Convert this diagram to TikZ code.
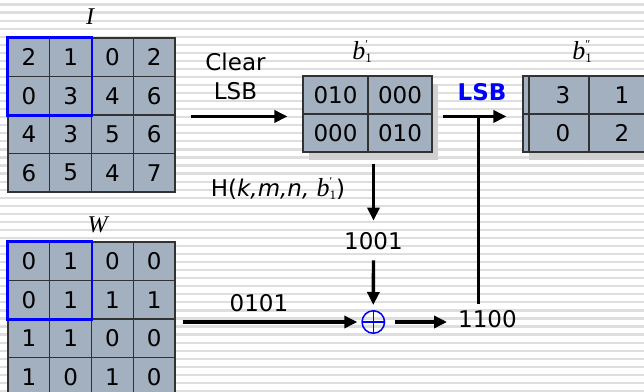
\documentclass[tikz,border=0pt]{standalone}
\usepackage{fontspec}
\setmainfont{DejaVu Sans}
\newfontfamily\tms{Liberation Serif}
\usetikzlibrary{arrows.meta,calc}
\definecolor{cellfill}{RGB}{163,176,191}
\definecolor{gridc}{RGB}{50,50,50}
\definecolor{stripec}{RGB}{222,222,222}
\definecolor{shadowc}{RGB}{208,208,208}
\definecolor{hblue}{RGB}{0,0,255}
\newcommand\bsym[1]{{\tms\itshape b}\rlap{\raisebox{0.42em}{\fontsize{12}{12}\selectfont\tms #1}}\raisebox{-0.12em}{\fontsize{13}{13}\selectfont\tms 1}}
\begin{document}
\begin{tikzpicture}[x=1pt,y=-1pt,
  cell/.style={draw=gridc, line width=1.1pt, fill=cellfill, inner sep=0pt, font=\fontsize{23}{26}\selectfont},
  lbl/.style={inner sep=0pt, font=\fontsize{23}{26}\selectfont},
  serlbl/.style={inner sep=0pt, font=\fontsize{24}{26}\selectfont\tms\itshape},
  arr/.style={line width=3.4pt, -{Triangle[length=13pt,width=12pt]}},
  plainline/.style={line width=3.4pt},
  hbox/.style={draw=hblue, line width=2.6pt}]
\useasboundingbox (0,0) rectangle (644,391);
\clip (0,0) rectangle (644,391);
\fill[white] (0,0) rectangle (644,391);
\foreach \k in {0,...,48} \fill[stripec] (0,{3.4+8.05*\k}) rectangle (644,{5.6+8.05*\k});

% matrix I
\foreach [count=\r] \row in {{2,1,0,2},{0,3,4,6},{4,3,5,6},{6,5,4,7}} {
  \foreach [count=\c] \v in \row {
    \node[cell, minimum width=41.75pt, minimum height=38.5pt] (I-\r-\c) at ({8+41.75*(\c-0.5)},{38+38.5*(\r-0.5)}) {\v};
  }
}
\draw[hbox] (I-1-1.north west) rectangle (I-2-2.south east);
\node[serlbl] (Ilbl) at (90,17) {I};

% matrix W
\foreach [count=\r] \row in {{0,1,0,0},{0,1,1,1},{1,1,0,0},{1,0,1,0}} {
  \foreach [count=\c] \v in \row {
    \node[cell, minimum width=41.75pt, minimum height=38.5pt] (W-\r-\c) at ({8+41.75*(\c-0.5)},{242+38.5*(\r-0.5)}) {\v};
  }
}
\draw[hbox] (W-1-1.north west) rectangle (W-2-2.south east);
\node[serlbl] (Wlbl) at (97.5,225) {W};

% b1'
\fill[shadowc] (309,84) rectangle (438,160);
\node[cell, minimum width=65pt, minimum height=38pt] (b-1-1) at (335.5,95) {010};
\node[cell, minimum width=64pt, minimum height=38pt] (b-1-2) at (400,95) {000};
\node[cell, minimum width=65pt, minimum height=38pt] (b-2-1) at (335.5,133) {000};
\node[cell, minimum width=64pt, minimum height=38pt] (b-2-2) at (400,133) {010};
\node[lbl, font=\fontsize{26}{28}\selectfont] (blbl) at (362,52) {\bsym{′}};

% b1''
\fill[shadowc] (529,84) rectangle (660,160);
\node[cell, minimum width=6pt, minimum height=38pt] (c-1-0) at (526,95) {};
\node[cell, minimum width=6pt, minimum height=38pt] (c-2-0) at (526,133) {};
\node[cell, minimum width=60pt, minimum height=38pt] (c-1-1) at (559,95) {\hspace*{8pt}3};
\node[cell, minimum width=66pt, minimum height=38pt] (c-1-2) at (622,95) {1};
\node[cell, minimum width=60pt, minimum height=38pt] (c-2-1) at (559,133) {\hspace*{8pt}0};
\node[cell, minimum width=66pt, minimum height=38pt] (c-2-2) at (622,133) {2};
\node[lbl, font=\fontsize{26}{28}\selectfont] (clbl) at (582,52) {\bsym{″}};

% texts
\node[lbl, align=center, font=\fontsize{23}{29}\selectfont] (clear) at (235.5,76.5) {Clear\\LSB};
\node[lbl, text=hblue, font=\fontsize{23}{26}\selectfont\bfseries] (lsb) at (482,92) {LSB};
\node[lbl] (hlbl) at (278,189) {H(\textit{k,m,n,} {\fontsize{26}{28}\selectfont\bsym{′}})};
\node[lbl] (n1001) at (373.5,241.5) {1001};
\node[lbl] (n0101) at (259,303) {0101};
\node[lbl] (n1100) at (487.5,319) {1100};
\node[circle, draw=hblue, line width=1.5pt, minimum size=22.5pt, inner sep=0pt,
  path picture={\draw[hblue, line width=1.5pt] (path picture bounding box.north) -- (path picture bounding box.south) (path picture bounding box.west) -- (path picture bounding box.east);}] (xor) at (373.3,322) {};

% connectors
\draw[arr] ($(I-2-4.south east |- b-2-1.north west)+(15,3)$) -- ($(b-2-1.north west)+(-15,3)$);
\coordinate (tj) at ($(b-2-2.north east)+(46,3)$);
\draw[arr] ($(b-2-2.north east)+(10,3)$) -- ($(c-2-0.north west)+(-16,3)$);
\draw[arr] ($(b-2-2.south west -| n1001)+(0,11)$) -- ($(n1001.north)+(0,-12)$);
\draw[arr] ($(n1001.south)+(0,10)$) -- ($(xor.north)+(0,-5)$);
\draw[arr] ($(W-3-4.north east |- xor)+(7,0)$) -- ($(xor.west)+(-4,0)$);
\draw[arr] ($(xor.east)+(10,0)$) -- ($(xor.east -| n1100.west)+(-11,0)$);
\draw[plainline] ($(tj |- n1100.north)+(0,-6)$) -- (tj);
\end{tikzpicture}
\end{document}
